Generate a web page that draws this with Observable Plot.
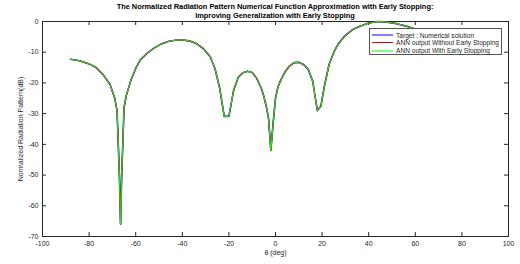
<!DOCTYPE html>
<html>
<head>
<meta charset="utf-8">
<script src="https://cdn.jsdelivr.net/npm/d3@7"></script>
<script src="https://cdn.jsdelivr.net/npm/@observablehq/plot@0.6"></script>
<style>
  body { margin: 0; background: #fff; font-family: "Liberation Sans", Arial, sans-serif; }
  #wrap { position: relative; width: 520px; height: 264px; }
  .title { position: absolute; left: 0; width: 550px; text-align: center; font-weight: bold; font-size: 7.4px; color: #000; white-space: nowrap; }
  #legend { position: absolute; left: 369px; top: 28px; width: 133px; height: 27px; background: #fff; border: 1px solid #555; box-sizing: border-box; font-size: 6.6px; color: #262626; }
  .row { position: absolute; left: 2px; height: 8px; display: flex; align-items: center; }
  .sw { width: 21px; margin-right: 3px; }
</style>
</head>
<body>
<div id="wrap">
  <div class="title" style="top:2px">The Normalized Radiation Pattern Numerical Function Approximation with Early Stopping:</div>
  <div class="title" style="top:10.5px">Improving Generalization with Early Stopping</div>
  <div id="chart"></div>
  <div id="legend"></div>
</div>
<script>
// theta (deg) and normalized pattern (dB)
const theta = [-88,-84,-80,-77,-74,-71,-69,-68,-67,-66.5,-66,-65,-64,-62,-60,-58,-55,-52,-49,-46,-43,-40,-37,-34,-31,-28,-26,-24,-22,-20,-18,-16,-14,-12,-10,-8,-6,-5,-4,-3,-2,-1,0,1,2,4,6,8,10,12,14,16,17,18,19.5,21,23,25,27,30,33,36,40,44,48,52,56,59,62,66,70,75,80,84,88];
const target = [-12.3,-12.8,-13.8,-15.0,-17.3,-20.5,-25,-29,-50,-65.9,-50,-28,-24,-19,-15.3,-12.5,-10.3,-8.6,-7.3,-6.5,-6.1,-6.0,-6.3,-7.2,-8.8,-11.5,-15.3,-21.5,-30.9,-30.9,-22.5,-18.2,-16.7,-16.2,-16.6,-18.6,-21.9,-24.4,-27.5,-31.5,-42,-33,-25,-21.5,-19.5,-16.5,-14.5,-13.4,-13.3,-14.0,-15.5,-19.5,-24.5,-29,-27.5,-21,-14,-10,-7.2,-4.5,-2.7,-1.6,-0.5,0,-0.2,-0.7,-1.5,-2.2,-3.0,-4.2,-5.5,-7.0,-8.3,-9.0,-9.5];
const annNoES = target.slice();
const annES = target.slice();
const seriesNames = ["Target : Numerical solution","ANN output Without Early Stopping","ANN output With Early Stopping"];
const xTicks = [-100,-80,-60,-40,-20,0,20,40,60,80,100];
const yTicks = [-70,-60,-50,-40,-30,-20,-10,0];

const rows = (ys) => theta.map((t, i) => ({t, v: ys[i]}));
const axisColor = "#262626";

const chart = Plot.plot({
  width: 520, height: 264,
  marginLeft: 42, marginRight: 12, marginTop: 21, marginBottom: 28,
  style: {fontFamily: "Liberation Sans, Arial, sans-serif", fontSize: "7px", color: axisColor, background: "transparent"},
  x: {domain: [-100, 100]},
  y: {domain: [-70, 0]},
  marks: [
    Plot.frame({stroke: axisColor, strokeWidth: 1}),
    Plot.tickX(xTicks, {x: d => d, insetTop: 211, stroke: axisColor}),
    Plot.tickX(xTicks, {x: d => d, insetBottom: 211, stroke: axisColor}),
    Plot.tickY(yTicks, {y: d => d, insetLeft: 462, stroke: axisColor}),
    Plot.tickY(yTicks, {y: d => d, insetRight: 462, stroke: axisColor}),
    Plot.axisX({ticks: xTicks, tickSize: 0, tickPadding: 5, tickFormat: d => `${d}`, label: "θ (deg)", labelAnchor: "center", labelArrow: "none", labelOffset: 18}),
    Plot.axisY({ticks: yTicks, tickSize: 0, tickPadding: 4, tickFormat: d => `${d}`, label: "Normalized Radiation Pattern(dB)", labelAnchor: "center", labelArrow: "none", labelOffset: 24}),
    Plot.line(rows(target), {x: "t", y: "v", stroke: "#0000ff", strokeWidth: 1.6, strokeLinejoin: "round"}),
    Plot.line(rows(annNoES), {x: "t", y: "v", stroke: "#ff0000", strokeWidth: 1.2, strokeLinejoin: "round"}),
    Plot.line(rows(annES), {x: "t", y: "v", stroke: "#00ff00", strokeWidth: 1, strokeLinejoin: "round"})
  ]
});
document.getElementById("chart").appendChild(chart);

const swatches = [{c: "#7f7fff", w: 2}, {c: "#e00000", w: 1}, {c: "#80ff80", w: 2}];
const leg = document.getElementById("legend");
seriesNames.forEach((n, i) => {
  const r = document.createElement("div");
  r.className = "row";
  r.style.top = (2 + i * 7.8) + "px";
  r.innerHTML = `<div class="sw" style="height:${swatches[i].w}px;background:${swatches[i].c}"></div><span>${n}</span>`;
  leg.appendChild(r);
});
</script>
</body>
</html>
